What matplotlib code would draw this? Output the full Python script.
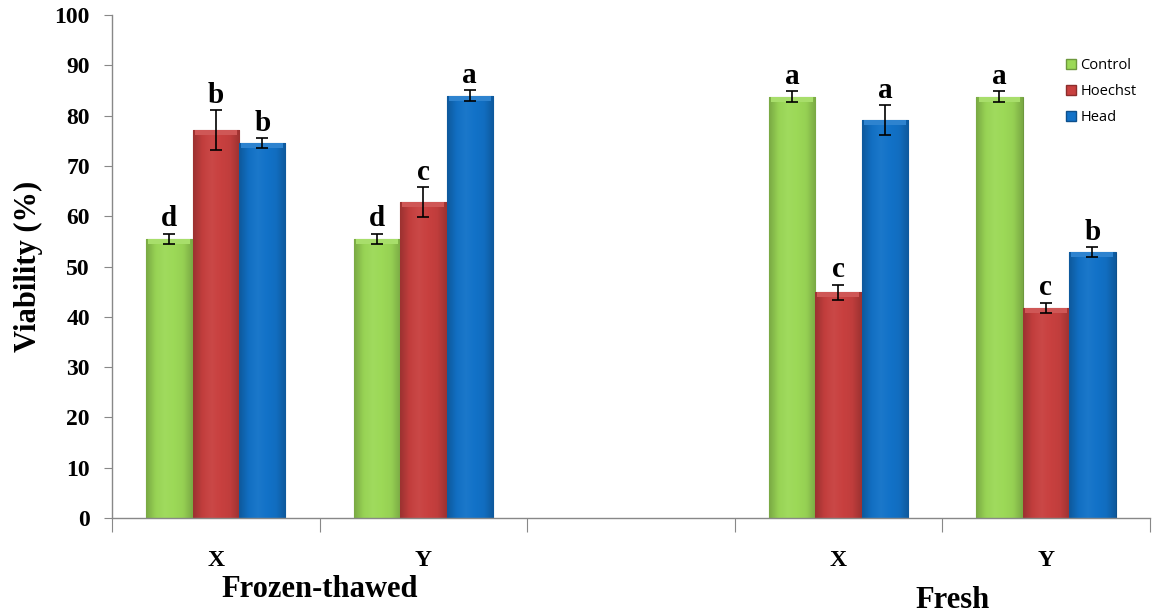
import numpy as np
import matplotlib
matplotlib.use("Agg")
import matplotlib.pyplot as plt
from matplotlib.colors import LinearSegmentedColormap, to_rgb
from matplotlib.patches import Patch

categories = ["X", "Y", "", "X", "Y"]
groups = ["Frozen-thawed", "Fresh"]
group_pos = [0.5, 3.55]
group_y = [-0.143, -0.163]
series = ["Control", "Hoechst", "Head"]

control = [55.5, 55.5, np.nan, 83.8, 83.8]
hoechst = [77.1, 62.8, np.nan, 44.9, 41.8]
head = [74.5, 84.0, np.nan, 79.1, 52.8]

control_err = [1.0, 1.0, np.nan, 1.0, 1.0]
hoechst_err = [4.0, 3.0, np.nan, 1.5, 1.0]
head_err = [1.0, 1.0, np.nan, 3.0, 1.0]

control_sig = ["d", "d", "", "a", "a"]
hoechst_sig = ["b", "c", "", "c", "c"]
head_sig = ["b", "a", "", "a", "b"]

colors = ["#9cd957", "#c8403f", "#1272c8"]
serif = ["Liberation Serif", "DejaVu Serif"]


def shade(c, f):
    r = np.array(to_rgb(c))
    if f < 1:
        return tuple(r * f)
    return tuple(r + (1 - r) * (f - 1))


def gradient_bar(ax, x, h, w, color):
    # flat bar first, then a soft horizontal shading clipped to it
    bar = ax.bar(x, h, w, color=color, edgecolor=shade(color, 0.7), linewidth=0.8, zorder=2)[0]
    cmap = LinearSegmentedColormap.from_list(
        "g", [shade(color, 0.78), shade(color, 0.97), shade(color, 1.04),
              shade(color, 1.0), shade(color, 0.96), shade(color, 0.78)])
    grad = np.linspace(0, 1, 64).reshape(1, -1)
    im = ax.imshow(grad, extent=(x - w / 2, x + w / 2, 0, h), aspect="auto",
                   cmap=cmap, zorder=2.1, interpolation="bicubic")
    im.set_clip_path(bar)
    # bevel along the top edge
    ax.bar(x, 1.0, w * 0.9, bottom=h - 1.0, color=shade(color, 1.12),
           linewidth=0, zorder=2.2)


fig = plt.figure(figsize=(11.52, 6.16), dpi=100)
ax = fig.add_axes([0.0972, 0.159, 0.9008, 0.8166])

xs = np.arange(len(categories))
w = 0.224
data = [(control, control_err, control_sig), (hoechst, hoechst_err, hoechst_sig),
        (head, head_err, head_sig)]
for k, (vals, errs, sigs) in enumerate(data):
    off = (k - 1) * w
    for i in range(len(categories)):
        if np.isnan(vals[i]):
            continue
        gradient_bar(ax, xs[i] + off, vals[i], w, colors[k])
        ax.errorbar(xs[i] + off, vals[i], yerr=errs[i], fmt="none", ecolor="black",
                    elinewidth=1.2, capsize=4, capthick=1.2, zorder=3)
        ax.annotate(sigs[i], (xs[i] + off, vals[i] + errs[i]), xytext=(0, 1),
                    textcoords="offset points", ha="center", va="bottom",
                    fontsize=21, fontweight="bold", family=serif, zorder=4)

ax.set_xlim(-0.5, 4.5)
ax.set_ylim(0, 100)
ax.set_yticks(np.arange(0, 101, 10))
ax.set_xticks(np.arange(-0.5, 4.6, 1))
ax.set_xticklabels([])
ax.set_xticks(xs, minor=True)
ax.set_xticklabels(categories, minor=True)
ax.tick_params(axis="x", which="major", length=10, color="#888888", direction="out")
ax.tick_params(axis="x", which="minor", length=0, pad=23)
ax.tick_params(axis="y", length=6, color="#888888", pad=10)
for lab in ax.get_yticklabels():
    lab.set_fontsize(17)
    lab.set_fontweight("bold")
    lab.set_family(serif)
for lab in ax.get_xticklabels(minor=True):
    lab.set_fontsize(17)
    lab.set_fontweight("bold")
    lab.set_family(serif)

for s in ["top", "right"]:
    ax.spines[s].set_visible(False)
for s in ["left", "bottom"]:
    ax.spines[s].set_color("#888888")
    ax.spines[s].set_linewidth(1.0)

ax.set_ylabel("Viability (%)", fontsize=22, fontweight="bold", family=serif, labelpad=8)

for g, p, yy in zip(groups, group_pos, group_y):
    ax.text(p, yy, g, transform=ax.get_xaxis_transform(), ha="center", va="center",
            fontsize=22, fontweight="bold", family=serif)

handles = [Patch(facecolor=c, edgecolor=shade(c, 0.7)) for c in colors]
ax.legend(handles, series, loc="upper right", bbox_to_anchor=(1.0, 0.94), frameon=False,
          handlelength=0.7, handleheight=0.7, handletextpad=0.3, labelspacing=0.75,
          prop={"family": "Open Sans", "size": 10.5})

fig.savefig("out.png", dpi=100)
